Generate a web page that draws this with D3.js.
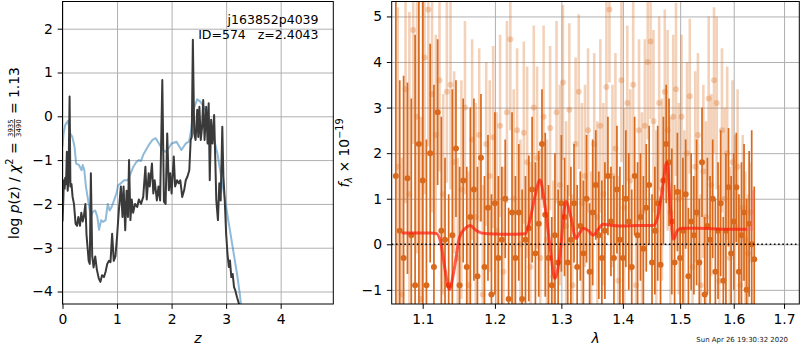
<!DOCTYPE html>
<html>
<head>
<meta charset="utf-8">
<script src="https://cdn.jsdelivr.net/npm/d3@7"></script>
<style>
  body { margin: 0; background: #fff; }
  svg { display: block; }
  text { font-family: "DejaVu Sans", sans-serif; }
</style>
</head>
<body>
<svg id="fig" width="800" height="350"></svg>
<script>
// ---- redshift probability: fitted log p(z) ----
const pzZ = [0.00,0.015,0.025,0.04,0.05,0.065,0.08,0.095,0.11,0.13,0.145,0.165,0.185,0.21,0.24,0.265,0.29,0.32,0.345,0.37,0.39,0.42,0.44,0.48,0.50,0.52,0.545,0.57,0.60,0.63,0.665,0.695,0.725,0.76,0.79,0.82,0.85,0.88,0.91,0.94,0.97,1.00,1.03,1.07,1.10,1.12,1.15,1.175,1.20,1.22,1.245,1.27,1.295,1.33,1.37,1.40,1.44,1.48,1.52,1.545,1.58,1.60,1.64,1.665,1.69,1.73,1.76,1.79,1.83,1.86,1.89,1.92,1.95,1.975,2.00,2.04,2.065,2.10,2.13,2.16,2.195,2.23,2.26,2.29,2.325,2.35,2.37,2.39,2.415,2.44,2.47,2.49,2.51,2.535,2.56,2.58,2.605,2.635,2.66,2.68,2.70,2.725,2.75,2.78,2.80,2.82,2.85,2.875,2.90,2.93,2.95,2.975,3.00,3.025,3.05,3.07,3.095,3.12,3.145,3.17,3.20,3.235,3.27,3.30];
const pzLog = [-2.4,-1.9,-1.46,-1.65,-1.4,-1.55,-0.81,-1.7,-1.45,0.45,-1.6,-1.55,-1.84,-2.0,-2.45,-2.5,-2.3,-2.5,-2.2,-2.4,-2.3,-2.0,-2.7,-3.3,-3.37,-1.3,-3.2,-3.45,-3.2,-3.5,-3.7,-3.78,-3.63,-3.67,-3.55,-3.37,-3.3,-3.33,-2.68,-3.3,-3.2,-2.75,-2.2,-1.6,-2.3,-1.6,-2.6,-1.7,-2.3,-1.0,-2.37,-1.9,-2.2,-2.0,-2.07,-1.9,-2.0,-1.84,-1.15,-1.9,-1.3,-1.6,-1.08,-1.76,-1.46,-1.92,-1.6,-1.92,0.83,-1.95,-2.0,-0.39,-1.69,-1.3,-1.76,-0.92,-1.6,-1.46,-1.53,-1.46,-1.84,-1.69,-1.46,-1.38,-1.23,-0.54,-0.47,1.75,-0.39,-0.54,0.15,-0.47,0.22,-0.54,-0.24,0.37,-0.54,0.22,-0.62,0.3,-1.46,-0.08,-0.62,0.03,-0.92,-1.92,-2.37,-1.53,-1.92,-0.24,-1.38,-1.92,-2.68,-3.14,-3.44,-3.29,-3.67,-3.6,-3.9,-3.98,-4.13,-4.28,-4.45,-4.6];

// ---- smooth template-fit curve ----
const fitZ = [0,0.02,0.05,0.10,0.14,0.18,0.22,0.25,0.30,0.35,0.37,0.40,0.43,0.48,0.52,0.555,0.60,0.64,0.67,0.71,0.745,0.79,0.83,0.865,0.90,0.945,0.99,1.02,1.07,1.13,1.20,1.25,1.30,1.35,1.40,1.44,1.48,1.53,1.59,1.65,1.71,1.78,1.84,1.89,1.95,2.00,2.09,2.18,2.26,2.32,2.36,2.40,2.47,2.53,2.59,2.65,2.71,2.77,2.84,2.90,2.96,3.02,3.08,3.14,3.20,3.25,3.29,3.32];
const fitLog = [-0.69,-0.39,-0.2,-0.1,-0.39,-0.47,-0.69,-1.08,-1.11,-1.23,-1.11,-1.23,-1.61,-2.0,-2.3,-2.18,-2.15,-2.3,-2.59,-2.37,-2.41,-2.37,-2.0,-2.15,-2.07,-1.92,-1.76,-1.57,-1.53,-1.46,-1.46,-1.3,-1.15,-1.05,-1.0,-1.02,-0.88,-0.77,-0.64,-0.54,-0.5,-0.65,-0.77,-0.81,-0.72,-0.62,-0.58,-0.77,-0.62,-0.58,-0.3,0.15,0.39,0.33,0.22,0.05,-0.16,-0.47,-0.85,-1.3,-1.76,-2.22,-2.68,-3.14,-3.6,-4.05,-4.5,-4.8];

// ---- 1D spectrum, first set (solid) ----
const lamA = [1.065,1.070,1.075,1.080,1.085,1.090,1.095,1.100,1.105,1.110,1.115,1.120,1.125,1.130,1.135,1.140,1.145,1.150,1.155,1.160,1.165,1.170,1.175,1.180,1.185,1.190,1.195,1.200,1.205,1.210,1.215,1.220,1.225,1.230,1.235,1.240,1.245,1.250,1.255,1.260,1.265,1.270,1.275,1.280,1.285,1.290,1.295,1.300,1.305,1.310,1.315,1.320,1.325,1.330,1.335,1.340,1.345,1.350,1.355,1.360,1.365,1.370,1.375,1.380,1.385,1.390,1.395,1.400,1.405,1.410,1.415,1.420,1.425,1.430,1.435,1.440,1.445,1.450,1.455,1.460,1.465,1.470,1.475,1.480,1.485,1.490,1.495,1.500,1.505,1.510,1.515,1.520,1.525,1.530,1.535,1.540,1.545,1.550,1.555,1.560,1.565,1.570,1.575,1.580,1.585,1.590,1.595,1.600,1.605,1.610,1.615,1.620,1.625,1.630,1.635,1.640];
const fluxA = [1.5,0.3,-0.3,1.45,0.2,-0.9,2.2,1.4,-0.9,2.0,-0.5,2.9,0.3,0.1,-0.9,0.2,2.1,-0.9,1.4,-0.5,0.6,1.2,-0.7,1.9,-0.5,0.8,-1.1,0.9,-0.3,0.1,1.0,-1.2,0.7,-0.3,0.7,-1.2,0.1,0.35,1.2,-0.2,0.45,2.2,0.65,-0.3,-0.9,0.2,-0.4,0.9,0.6,-0.4,0.1,0.9,-0.5,0.4,-0.2,1.0,-0.6,0.7,1.3,0.2,-0.3,0.3,1.5,0.5,-0.3,1.2,0.1,-0.3,1.0,0.5,-0.5,1.5,0.2,0.6,-0.1,0.8,1.3,-0.4,0.3,0.9,-0.45,1.4,2.2,1.8,0.5,-0.4,1.15,-0.3,0.3,1.1,-0.7,0.5,0.2,0.7,-0.4,1.8,-1.1,0.4,0.1,1.0,-0.6,0.3,0.9,-0.8,0.3,1.25,-0.2,0.5,1.25,-0.6,0.2,0.7,-1.0,0.45,0.0,-0.33];
const errA = [6.0,3.3,4.0,2.1,3.0,5.5,3.5,6.0,3.2,2.4,4.0,1.6,2.5,1.8,2.0,3.2,1.5,2.6,1.8,2.2,2.4,2.0,2.4,1.4,2.0,1.6,2.2,2.0,1.8,1.6,1.3,2.0,2.2,1.8,1.5,2.4,1.4,1.6,1.6,2.0,1.6,1.2,1.8,1.6,1.5,1.8,1.6,1.5,1.3,1.7,1.6,1.3,1.8,1.2,1.6,1.4,1.5,1.6,1.2,1.4,1.7,1.5,1.3,1.2,1.8,1.4,1.6,1.6,1.5,1.5,1.7,1.3,1.6,1.4,1.6,1.4,1.3,1.5,1.4,1.7,1.5,1.4,1.3,1.4,1.6,1.7,1.3,1.5,1.6,1.2,1.5,1.5,1.3,1.6,1.4,1.2,1.7,1.5,1.4,1.3,1.6,1.5,1.6,1.4,1.7,1.3,1.7,1.5,1.2,1.7,1.6,1.5,2.0,1.6,2.5,1.6];

// ---- 1D spectrum, second set (faint) ----
const lamB = [1.0675,1.0725,1.0775,1.0825,1.0875,1.0925,1.0975,1.1025,1.1075,1.1125,1.1175,1.1225,1.1275,1.1325,1.1375,1.1425,1.1475,1.1525,1.1575,1.1625,1.1675,1.1725,1.1775,1.1825,1.1875,1.1925,1.1975,1.2025,1.2075,1.2125,1.2175,1.2225,1.2275,1.2325,1.2375,1.2425,1.2475,1.2525,1.2575,1.2625,1.2675,1.2725,1.2775,1.2825,1.2875,1.2925,1.2975,1.3025,1.3075,1.3125,1.3175,1.3225,1.3275,1.3325,1.3375,1.3425,1.3475,1.3525,1.3575,1.3625,1.3675,1.3725,1.3775,1.3825,1.3875,1.3925,1.3975,1.4025,1.4075,1.4125,1.4175,1.4225,1.4275,1.4325,1.4375,1.4425,1.4475,1.4525,1.4575,1.4625,1.4675,1.4725,1.4775,1.4825,1.4875,1.4925,1.4975,1.5025,1.5075,1.5125,1.5175,1.5225,1.5275,1.5325,1.5375,1.5425,1.5475,1.5525,1.5575,1.5625,1.5675,1.5725,1.5775,1.5825,1.5875,1.5925,1.5975,1.6025,1.6075,1.6125,1.6175,1.6225,1.6275,1.6325];
const fluxB = [1.7,-1.1,3.4,1.1,4.7,2.8,-1.2,4.1,5.15,3.3,2.4,3.6,1.1,3.35,3.5,1.8,-0.3,1.2,3.0,-0.9,2.3,0.6,2.4,-1.1,2.2,1.5,2.35,0.3,2.6,-0.6,2.9,4.5,1.0,2.5,0.0,2.45,1.8,-0.5,3.0,1.9,-0.3,2.8,0.1,2.55,-0.7,2.9,1.3,3.55,0.4,2.95,-0.9,2.2,3.35,0.9,1.5,2.5,-0.6,2.2,0.6,2.6,1.1,3.45,5.15,1.5,2.1,-0.8,3.6,0.8,3.1,1.4,3.5,-0.9,2.5,0.7,2.6,4.0,4.45,2.7,0.3,3.1,1.2,3.35,2.5,0.7,2.8,3.4,1.0,2.8,0.3,2.0,3.25,-0.5,1.7,2.4,-0.9,1.6,0.6,3.2,1.3,3.6,3.1,-0.8,2.5,1.0,2.0,-0.3,1.8,0.4,1.7,-0.9,0.8,0.1,-0.2,0.7];
const errB = [3.5,3.0,2.5,4.0,2.5,3.0,4.0,3.0,3.0,2.6,2.2,2.0,2.2,2.0,2.3,2.0,2.2,2.4,1.9,2.5,2.2,2.5,1.9,2.4,1.8,2.1,2.0,2.6,2.0,2.3,2.0,2.0,2.4,1.8,2.3,2.0,2.1,2.3,1.8,2.0,2.4,2.0,2.2,1.8,2.1,2.0,2.2,1.7,2.3,1.9,2.0,1.9,1.7,2.2,2.0,1.8,2.2,2.0,2.1,1.9,2.0,2.0,1.6,2.0,2.1,2.3,1.8,2.2,1.7,2.0,2.0,2.4,2.0,2.2,1.9,1.7,1.7,2.0,2.2,1.9,2.0,1.8,2.2,2.1,1.8,1.9,2.1,1.8,2.2,2.0,1.7,2.0,2.1,1.8,2.0,1.9,2.1,1.8,2.0,1.6,1.9,2.1,1.8,2.0,1.9,2.0,1.8,2.0,1.7,1.9,1.6,1.5,1.3,1.1];

// ---- best-fit model ----
const modelLam = [1.073,1.090,1.110,1.118,1.124,1.130,1.136,1.142,1.150,1.158,1.165,1.172,1.180,1.190,1.210,1.230,1.245,1.252,1.260,1.267,1.274,1.282,1.290,1.298,1.307,1.315,1.323,1.329,1.335,1.343,1.351,1.359,1.367,1.380,1.400,1.425,1.452,1.460,1.468,1.476,1.482,1.488,1.495,1.503,1.530,1.560,1.590,1.626];
const modelFlux = [0.25,0.25,0.25,0.24,0.05,-0.55,-0.99,-0.6,0.16,0.35,0.41,0.32,0.25,0.23,0.22,0.22,0.23,0.55,1.1,1.41,0.9,0.0,-0.75,-0.2,0.94,0.6,0.13,0.25,0.35,0.3,0.2,0.33,0.44,0.42,0.40,0.41,0.41,0.6,1.2,1.8,0.9,0.11,0.3,0.35,0.35,0.34,0.33,0.33];
const tailLam = [1.622,1.6355,1.638,1.640];
const tailFlux = [0.33,0.33,1.15,1.18];

// ---- ticks ----
const zTicks = [0,1,2,3,4];
const logpTicks = [-4,-3,-2,-1,0,1,2];
const lamTicks = [1.1,1.2,1.3,1.4,1.5,1.6,1.7];
const fluxTicks = [-1,0,1,2,3,4,5];

const objName = "j163852p4039";
const objInfo = "ID=574   z=2.4043";
const stamp = "Sun Apr 26 19:30:32 2020";

// ---------------------------------------------------------------
const svg = d3.select("#fig");
const FS = 13.9, TICK = 4.86;
const L = {x0: 62.5, x1: 333.3, y0: 1.5, y1: 304};
const R = {x0: 391.7, x1: 799.3, y0: 1.5, y1: 304};

const xZ = d3.scaleLinear().domain([0, 4.965]).range([L.x0, L.x1]);
const yP = d3.scaleLinear().domain([-4.285, 2.621]).range([L.y1, L.y0]);
const xL = d3.scaleLog().domain([1.0597, 1.7315]).range([R.x0, R.x1]);
const yF = d3.scaleLinear().domain([-1.31, 5.328]).range([R.y1, R.y0]);

const defs = svg.append("defs");
[["clipL", L], ["clipR", R]].forEach(([id, b]) => {
  defs.append("clipPath").attr("id", id).append("rect")
    .attr("x", b.x0).attr("y", b.y0).attr("width", b.x1 - b.x0).attr("height", b.y1 - b.y0);
});

function grid(b, xs, ys, xt, yt) {
  const g = svg.append("g").attr("class", "grid");
  g.append("g").attr("transform", `translate(0,${b.y1})`)
    .call(d3.axisBottom(xs).tickValues(xt).tickSize(-(b.y1 - b.y0)).tickFormat(""));
  g.append("g").attr("transform", `translate(${b.x0},0)`)
    .call(d3.axisLeft(ys).tickValues(yt).tickSize(-(b.x1 - b.x0)).tickFormat(""));
  g.selectAll(".domain").remove();
  g.selectAll("line").attr("stroke", "#b0b0b0").attr("stroke-width", 1);
}

function axes(b, xs, ys, xt, yt, xf, yf) {
  const gx = svg.append("g").attr("transform", `translate(0,${b.y1})`)
    .call(d3.axisBottom(xs).tickValues(xt).tickSize(TICK).tickPadding(TICK).tickFormat(xf));
  const gy = svg.append("g").attr("transform", `translate(${b.x0},0)`)
    .call(d3.axisLeft(ys).tickValues(yt).tickSize(TICK).tickPadding(TICK).tickFormat(yf));
  [gx, gy].forEach(g => {
    g.select(".domain").remove();
    g.selectAll("line").attr("stroke", "#000").attr("stroke-width", 1);
    g.selectAll("text").attr("font-size", FS).attr("fill", "#000")
      .attr("font-family", "DejaVu Sans");
  });
  svg.append("rect").attr("x", b.x0).attr("y", b.y0)
    .attr("width", b.x1 - b.x0).attr("height", b.y1 - b.y0)
    .attr("fill", "none").attr("stroke", "#000").attr("stroke-width", 1);
}

// ================= left panel: p(z) =================
grid(L, xZ, yP, zTicks, logpTicks);
const gl = svg.append("g").attr("clip-path", "url(#clipL)");
const lineZ = d3.line().x(d => xZ(d[0])).y(d => yP(d[1]));
gl.append("path").datum(d3.zip(fitZ, fitLog)).attr("d", lineZ)
  .attr("fill", "none").attr("stroke", "#1f77b4").attr("stroke-opacity", 0.5)
  .attr("stroke-width", 2).attr("stroke-linejoin", "round");
gl.append("path").datum(d3.zip(pzZ, pzLog)).attr("d", lineZ)
  .attr("fill", "none").attr("stroke", "#3a3a3a").attr("stroke-width", 2)
  .attr("stroke-linejoin", "round");
axes(L, xZ, yP, zTicks, logpTicks, d3.format("d"), d3.format("d"));

svg.append("text").attr("x", 318.5).attr("y", 23.5).attr("text-anchor", "end")
  .attr("font-size", 12.5).text(objName);
svg.append("text").attr("x", 318.5).attr("y", 38.5).attr("text-anchor", "end")
  .attr("font-size", 12.5).style("white-space", "pre").text(objInfo);

// ================= right panel: spectrum =================
grid(R, xL, yF, lamTicks, fluxTicks);
const gr = svg.append("g").attr("clip-path", "url(#clipR)");
const ORANGE = "#d9691c";

function spectrum(lam, flux, err, opacity, barW, dotR) {
  const data = d3.zip(lam, flux, err);
  const g = gr.append("g");
  g.selectAll("line.eb").data(data).join("line").attr("class", "eb")
    .attr("x1", d => xL(d[0])).attr("x2", d => xL(d[0]))
    .attr("y1", d => yF(d[1] - d[2])).attr("y2", d => yF(d[1] + d[2]))
    .attr("stroke", ORANGE).attr("stroke-opacity", opacity).attr("stroke-width", barW);
  g.selectAll("circle").data(data).join("circle")
    .attr("cx", d => xL(d[0])).attr("cy", d => yF(d[1])).attr("r", dotR)
    .attr("fill", ORANGE).attr("fill-opacity", opacity);
}
spectrum(lamB, fluxB, errB, 0.3, 2.6, 3);
spectrum(lamA, fluxA, errA, 1, 1.7, 3);

const lineL = d3.line().x(d => xL(d[0])).y(d => yF(d[1])).curve(d3.curveMonotoneX);
gr.append("path").datum(d3.zip(modelLam, modelFlux)).attr("d", lineL)
  .attr("fill", "none").attr("stroke", "#ff1a0a").attr("stroke-opacity", 0.7)
  .attr("stroke-width", 3).attr("stroke-linejoin", "round");
gr.append("path").datum(d3.zip(tailLam, tailFlux))
  .attr("d", d3.line().x(d => xL(d[0])).y(d => yF(d[1])))
  .attr("fill", "none").attr("stroke", "#ff5a6a").attr("stroke-opacity", 0.4)
  .attr("stroke-width", 3);
gr.append("line").attr("x1", R.x0).attr("x2", R.x1)
  .attr("y1", yF(0)).attr("y2", yF(0))
  .attr("stroke", "#000").attr("stroke-width", 1.6).attr("stroke-dasharray", "1.6,2.6");
axes(R, xL, yF, lamTicks, fluxTicks, d3.format(".1f"), d3.format("d"));

// ================= axis titles =================
svg.append("text").attr("x", (L.x0 + L.x1) / 2).attr("y", 343).attr("text-anchor", "middle")
  .attr("font-size", FS).attr("font-style", "italic").text("z");
svg.append("text").attr("x", (R.x0 + R.x1) / 2).attr("y", 343).attr("text-anchor", "middle")
  .attr("font-size", FS).attr("font-style", "italic").text("λ");

// lays out a row of text pieces along a rotated baseline, centred on (cx, cy)
function rotatedLabel(cx, cy, pieces) {
  const g = svg.append("g").attr("transform", `translate(${cx},${cy}) rotate(-90)`);
  const inner = g.append("g");
  let x = 0;
  pieces.forEach(p => {
    if (p.frac) {
      const num = inner.append("text").attr("font-size", p.size).attr("text-anchor", "middle").text(p.frac[0]);
      const den = inner.append("text").attr("font-size", p.size).attr("text-anchor", "middle").text(p.frac[1]);
      const w = Math.max(num.node().getComputedTextLength(), den.node().getComputedTextLength()) + 2;
      num.attr("x", x + w / 2).attr("y", p.numY);
      den.attr("x", x + w / 2).attr("y", p.denY);
      inner.append("line").attr("x1", x + 0.5).attr("x2", x + w - 0.5)
        .attr("y1", p.barY).attr("y2", p.barY).attr("stroke", "#000").attr("stroke-width", 0.7);
      x += w;
    } else {
      const t = inner.append("text").attr("x", x).attr("y", p.dy || 0)
        .attr("font-size", p.size || FS).style("white-space", "pre")
        .attr("font-style", p.italic ? "italic" : "normal").text(p.t);
      x += t.node().getComputedTextLength();
    }
  });
  inner.attr("transform", `translate(${-x / 2},0)`);
}

rotatedLabel(18.5, 153, [
  {t: "log "}, {t: "p", italic: true}, {t: "(z) / "}, {t: "χ", italic: true},
  {t: "2", size: 9.7, dy: -5.5}, {t: " = "},
  {frac: ["3935", "3490"], size: 6.9, numY: -5.2, denY: 2.8, barY: -3.9},
  {t: " = 1.13"}
]);
rotatedLabel(348.5, 153, [
  {t: "f", italic: true}, {t: "λ", italic: true, size: 9.7, dy: 3},
  {t: " × 10"}, {t: "−19", size: 9.7, dy: -5.5}
]);

svg.append("text").attr("x", 788).attr("y", 342).attr("text-anchor", "end")
  .attr("font-size", 6.94).attr("fill", "#222").text(stamp);
</script>
</body>
</html>
